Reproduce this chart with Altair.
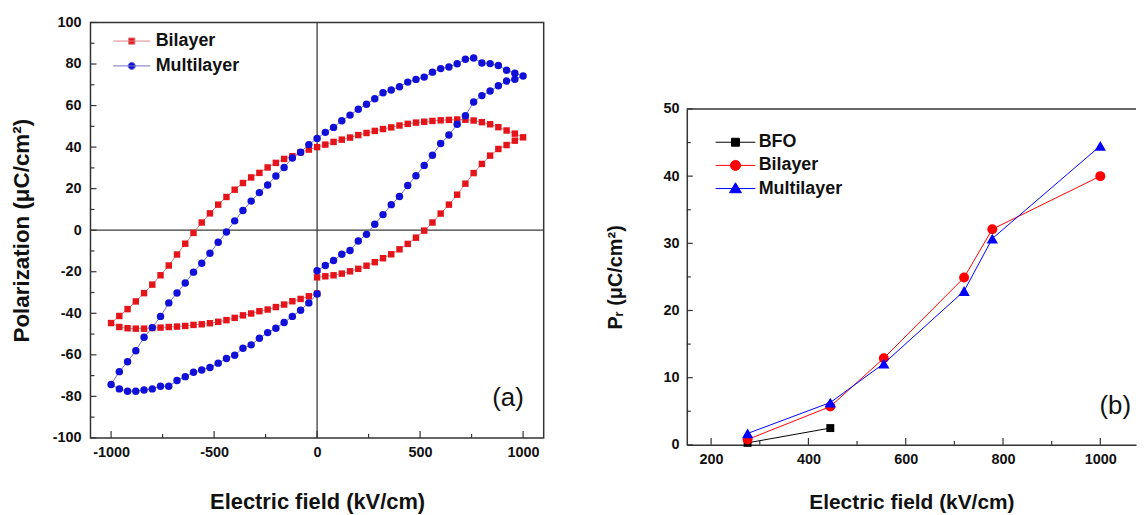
import altair as alt
import pandas as pd

FONT = "Liberation Sans"

# ---------------- Panel (a): P-E hysteresis loops ----------------
loop_E = [0, 40, 80, 120, 160, 200, 240, 280, 320, 360, 400, 440, 480, 520, 560, 600, 640, 680, 720, 760,
          800, 840, 880, 920, 960, 1000,
          960, 920, 880, 840, 800, 760, 720, 680, 640, 600, 560, 520, 480, 440, 400, 360, 320, 280, 240, 200,
          160, 120, 80, 40, 0, -40, -80, -120, -160, -200, -240, -280, -320, -360, -400, -440, -480, -520, -560,
          -600, -640, -680, -720, -760, -800, -840, -880, -920, -960, -1000,
          -960, -920, -880, -840, -800, -760, -720, -680, -640, -600, -560, -520, -480, -440, -400, -360, -320,
          -280, -240, -200, -160, -120, -80, -40, 0]

bilayer_P = [-22.7, -22.2, -21.7, -20.9, -19.8, -18.6, -17.1, -15.4, -13.5, -11.6, -9.2, -6.6, -3.6, -0.2, 3.7,
             8.0, 12.3, 17.1, 22.4, 27.5, 31.9, 35.9, 39.1, 41.0, 43.1, 44.7,
             46.5, 48.0, 49.6, 51.0, 52.0, 52.8, 53.2, 53.3, 53.1, 52.9, 52.6, 52.2, 51.8, 51.2, 50.4, 49.5, 48.7,
             47.8, 46.8, 45.8, 44.6, 43.6, 42.5, 41.2, 40.0,
             38.8, 37.5, 35.6, 34.3, 32.4, 30.2, 27.6, 25.4, 22.7, 19.5, 16.0, 12.3, 8.1, 3.7, -1.3, -6.5, -11.7,
             -17.0, -21.7, -26.2, -30.3, -34.3, -38.0, -41.3, -44.7,
             -46.6, -47.2, -47.4, -47.4, -47.1, -46.9, -46.6, -46.4, -46.1, -45.6, -45.3, -44.8, -44.1, -43.3,
             -42.2, -41.0, -40.1, -39.0, -38.2, -37.0, -35.8, -34.2, -33.1, -31.8, -30.5]

multilayer_P = [-19.5, -17.0, -14.6, -11.6, -9.8, -5.2, -2.0, 2.9, 7.5, 12.3, 16.2, 21.5, 26.2, 31.2, 36.1, 41.7,
                45.8, 51.0, 55.1, 61.7, 64.8, 67.0, 69.5, 71.8, 72.7, 74.2,
                75.6, 77.0, 79.3, 80.2, 80.5, 82.9, 82.3, 80.1, 78.6, 77.8, 76.1, 73.7, 72.6, 71.3, 69.1, 67.5,
                66.2, 63.3, 60.6, 58.2, 55.4, 52.7, 49.5, 47.1, 44.2,
                41.2, 37.5, 34.8, 30.2, 26.1, 21.8, 18.1, 14.0, 9.5, 4.5, -0.9, -5.8, -11.1, -15.9, -20.2, -25.4,
                -30.2, -35.0, -41.5, -46.9, -51.5, -58.0, -63.3, -68.1, -74.3,
                -76.4, -77.5, -77.5, -76.9, -76.4, -75.1, -75.1, -72.4, -70.5, -68.4, -67.3, -66.1, -64.0, -61.8,
                -60.2, -56.8, -55.2, -52.0, -49.3, -47.2, -44.4, -41.5, -38.5, -35.0, -30.7]

series_a = ["Bilayer", "Multilayer"]
marker_a = ["#e4141b", "#1010d8"]
line_a = ["#dc8484", "#7474c4"]
shape_a = ["square", "circle"]
size_a = [42, 56]
# legend glyphs: a short line with the marker in its middle (scale unit = 9 px)
legend_paths_a = ["M0,0H-2.06M2.06,0H0M-0.35,-0.35H0.35V0.35H-0.35Z",
                  "M-2.06,0H2.06M-0.4,0A0.4,0.4,0,1,0,0.4,0A0.4,0.4,0,1,0,-0.4,0Z"]

a_x_major = [-1000, -500, 0, 500, 1000]
a_x_minor = [-750, -250, 250, 750]
a_y_major = [-100, -80, -60, -40, -20, 0, 20, 40, 60, 80, 100]
a_y_minor = [-90, -70, -50, -30, -10, 10, 30, 50, 70, 90]
zero_line = [0]
label_a = ["(a)"]

# ---------------- Panel (b): remanent polarization ----------------
series_b = ["BFO", "Bilayer", "Multilayer"]
bfo_E = [275, 445]
bfo_Pr = [0.3, 2.5]
film_E = [275, 445, 555, 720, 778, 1000]
bilayer_Pr = [0.8, 5.7, 12.9, 24.9, 32.1, 40.0]
multilayer_Pr = [1.7, 6.3, 12.1, 22.9, 30.7, 44.5]
marker_b = ["#000000", "#ff0000", "#0000ff"]
shape_b = ["square", "circle", "triangle-up"]
size_b = [64, 100, 130]
# legend glyphs (scale unit = 10 px)
legend_paths_b = ["M-2,0H2M-0.4,-0.4H0.4V0.4H-0.4Z",
                  "M-2,0H2M-0.5,0A0.5,0.5,0,1,0,0.5,0A0.5,0.5,0,1,0,-0.5,0Z",
                  "M-2,0H2M0,-0.58L0.6,0.42H-0.6Z"]

b_x_major = [200, 400, 600, 800, 1000]
b_x_minor = [300, 500, 700, 900]
b_y_major = [0, 10, 20, 30, 40, 50]
b_y_minor = [5, 15, 25, 35, 45]
label_b = ["(b)"]

# ---------------- tables ----------------
n = len(loop_E)
df_a = pd.DataFrame({
    "E": loop_E + loop_E,
    "P": bilayer_P + multilayer_P,
    "series": [series_a[0]] * n + [series_a[1]] * n,
    "idx": list(range(n)) + list(range(n)),
})
df_b = pd.DataFrame({
    "E": bfo_E + film_E + film_E,
    "P": bfo_Pr + bilayer_Pr + multilayer_Pr,
    "series": [series_b[0]] * len(bfo_E) + [series_b[1]] * len(film_E) + [series_b[2]] * len(film_E),
    "idx": list(range(len(bfo_E))) + list(range(len(film_E))) + list(range(len(film_E))),
})
zero_df = pd.DataFrame({"v": zero_line})

AX = "#333333"


def main_axis(values, title, tsize, tpad, lpad, domain=False):
    return alt.Axis(values=values, title=title, ticks=False, tickSize=0, domain=domain,
                    domainColor=AX, domainWidth=1.5, grid=False,
                    labelFont=FONT, labelFontSize=14.5, labelFontWeight="bold", labelColor="#111111",
                    labelPadding=lpad, labelFlush=False, labelExpr="datum.value + ''",
                    titleFont=FONT, titleFontSize=tsize, titleFontWeight="bold", titleColor="#111111",
                    titlePadding=tpad)


def inward_ticks(values, scale, channel, length, H):
    """Inward-pointing tick marks, placed through the scale at the given tick values."""
    c = alt.Chart(pd.DataFrame({"v": values})).mark_rule(color=AX, strokeWidth=1.2)
    if channel == "x":
        return c.encode(x=alt.X("v:Q", scale=scale, axis=None), y=alt.value(H), y2=alt.value(H - length))
    return c.encode(y=alt.Y("v:Q", scale=scale, axis=None), x=alt.value(0), x2=alt.value(length))


def make_legend(x, y, size, soff, loff, rowpad):
    return alt.Legend(orient="none", legendX=x, legendY=y, title=None, direction="vertical",
                      symbolSize=size, symbolStrokeWidth=1, symbolOpacity=1, symbolOffset=soff, padding=0,
                      labelFont=FONT, labelFontSize=18, labelFontWeight="bold", labelColor="#111111",
                      labelOffset=loff, rowPadding=rowpad, labelLimit=300)


# ---------------- panel (a) ----------------
WA, HA = 456, 418
xa = alt.Scale(domain=[-1100, 1100], nice=False, zero=False)
ya = alt.Scale(domain=[-100, 100], nice=False, zero=False)
base_a = alt.Chart(df_a)

leg_a = make_legend(23, 9.2, 324, 9, 14.6, 6)
layers_a = [
    # axes + legend carrier (invisible marks)
    base_a.mark_point(filled=True, opacity=0, size=10).encode(
        x=alt.X("E:Q", scale=xa, axis=main_axis(a_x_major, "Electric field (kV/cm)", 22, 33, 8)),
        y=alt.Y("P:Q", scale=ya, axis=main_axis(a_y_major, "Polarization (μC/cm²)", 22.5, 19, 9.4)),
        fill=alt.Fill("series:N", scale=alt.Scale(domain=series_a, range=marker_a), legend=leg_a),
        stroke=alt.Stroke("series:N", scale=alt.Scale(domain=series_a, range=line_a), legend=leg_a),
        shape=alt.Shape("series:N", scale=alt.Scale(domain=series_a, range=legend_paths_a), legend=leg_a)),
    alt.Chart(zero_df).mark_rule(color="#3a3a3a", strokeWidth=1.3).encode(
        y=alt.Y("v:Q", scale=ya, axis=None)),
    alt.Chart(zero_df).mark_rule(color="#3a3a3a", strokeWidth=1.3).encode(
        x=alt.X("v:Q", scale=xa, axis=None)),
    inward_ticks(a_x_major, xa, "x", 7, HA),
    inward_ticks(a_x_minor, xa, "x", 4, HA),
    inward_ticks(a_y_major, ya, "y", 6, HA),
    inward_ticks(a_y_minor, ya, "y", 4, HA),
]
for name, mc, lc, shp, sz in zip(series_a, marker_a, line_a, shape_a, size_a):
    sub = base_a.transform_filter(alt.datum.series == name)
    layers_a.append(sub.mark_line(color=lc, strokeWidth=1).encode(
        x=alt.X("E:Q", scale=xa, axis=None), y=alt.Y("P:Q", scale=ya, axis=None), order="idx:Q"))
    layers_a.append(sub.mark_point(shape=shp, filled=True, size=sz, color=mc, opacity=1).encode(
        x=alt.X("E:Q", scale=xa, axis=None), y=alt.Y("P:Q", scale=ya, axis=None)))

layers_a.append(alt.Chart(pd.DataFrame({"t": label_a})).mark_text(
    font=FONT, fontSize=26, align="right", baseline="middle", color="#111111").encode(
    text="t:N", x=alt.value(436), y=alt.value(378)))

left = alt.layer(*layers_a).resolve_axis(x="independent", y="independent").properties(
    width=WA, height=HA, view=alt.ViewBackground(stroke=AX, strokeWidth=1.5))

# ---------------- panel (b) ----------------
WB, HB = 452, 338
xb = alt.Scale(domain=[150, 1073.4], nice=False, zero=False)
yb = alt.Scale(domain=[0, 50], nice=False, zero=False)
base_b = alt.Chart(df_b)

leg_b = make_legend(29, 23, 400, 9.5, 12.8, 3.3)
layers_b = [
    base_b.mark_point(filled=True, opacity=0, size=10).encode(
        x=alt.X("E:Q", scale=xb, axis=main_axis(b_x_major, "Electric field (kV/cm)", 21, 25.3, 8, True)),
        y=alt.Y("P:Q", scale=yb, axis=main_axis(b_y_major, "Pᵣ (μC/cm²)", 20, 37.5, 7.7, True)),
        fill=alt.Fill("series:N", scale=alt.Scale(domain=series_b, range=marker_b), legend=leg_b),
        stroke=alt.Stroke("series:N", scale=alt.Scale(domain=series_b, range=marker_b), legend=leg_b),
        shape=alt.Shape("series:N", scale=alt.Scale(domain=series_b, range=legend_paths_b), legend=leg_b)),
    inward_ticks(b_x_major, xb, "x", 7, HB),
    inward_ticks(b_x_minor, xb, "x", 4, HB),
    inward_ticks(b_y_major, yb, "y", 6, HB),
    inward_ticks(b_y_minor, yb, "y", 4, HB),
    alt.Chart(zero_df).mark_rule(color=AX, strokeWidth=1.5).encode(
        x=alt.value(0), x2=alt.value(WB), y=alt.value(0)),
]
for name, mc, shp, sz in zip(series_b, marker_b, shape_b, size_b):
    sub = base_b.transform_filter(alt.datum.series == name)
    layers_b.append(sub.mark_line(color=mc, strokeWidth=1).encode(
        x=alt.X("E:Q", scale=xb, axis=None), y=alt.Y("P:Q", scale=yb, axis=None), order="idx:Q"))
    layers_b.append(sub.mark_point(shape=shp, filled=True, size=sz, color=mc, opacity=1).encode(
        x=alt.X("E:Q", scale=xb, axis=None), y=alt.Y("P:Q", scale=yb, axis=None)))

layers_b.append(alt.Chart(pd.DataFrame({"t": label_b})).mark_text(
    font=FONT, fontSize=26, align="right", baseline="middle", color="#111111").encode(
    text="t:N", x=alt.value(447), y=alt.value(299)))

right = alt.layer(*layers_b).resolve_axis(x="independent", y="independent").properties(
    width=WB, height=HB, view=alt.ViewBackground(stroke="transparent"))

# empty spacer so that panel (b) starts lower than panel (a)
spacer = alt.Chart(zero_df).mark_point(opacity=0).encode(x=alt.value(0), y=alt.value(0)).properties(
    width=10, height=77, view=alt.ViewBackground(stroke="transparent"))

right_col = alt.vconcat(spacer, right, spacing=0).resolve_scale(
    fill="independent", stroke="independent", shape="independent").resolve_legend(
    fill="independent", stroke="independent", shape="independent")

chart = alt.hconcat(left, right_col, spacing=60).resolve_scale(
    fill="independent", stroke="independent", shape="independent").resolve_legend(
    fill="independent", stroke="independent", shape="independent").properties(
    padding={"left": 1, "top": 4, "right": 0, "bottom": 0}).configure(background="white")

chart.save("out.html", embed_options={"renderer": "svg", "actions": False})
